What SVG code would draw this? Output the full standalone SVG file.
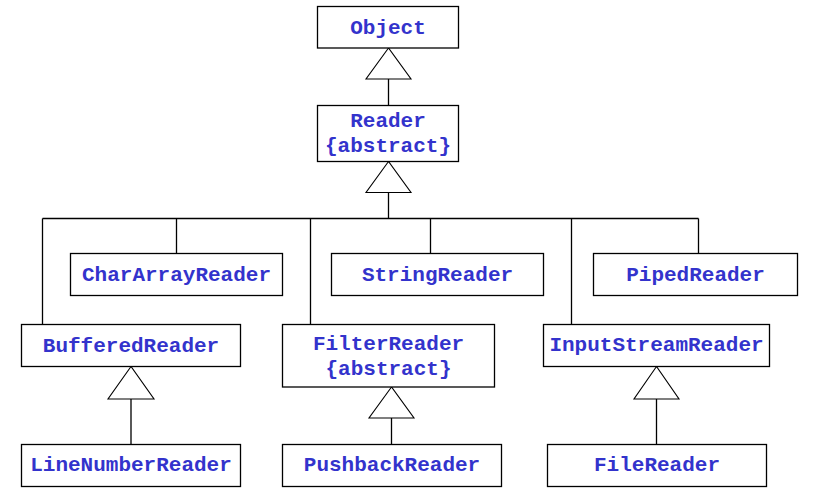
<svg xmlns="http://www.w3.org/2000/svg" width="817" height="497" viewBox="0 0 817 497">
<style>
.box{fill:#fff;stroke:#000;stroke-width:1.3}
.lbl{font-family:"Liberation Mono","Courier New",monospace;font-weight:bold;font-size:21px;fill:#3333cc;text-anchor:middle}
.ln{stroke:#000;stroke-width:1.3;fill:none}
.tri{fill:#fff;stroke:#000;stroke-width:1.1}
</style>
<rect width="817" height="497" fill="#fff"/>
<g id="connectors">
<path class="ln" d="M388.5,79 V105.5 M388.5,192.5 V218.5 M42.5,218.5 H698.5 M42.5,218.5 V324.5 M176.5,218.5 V253.5 M310.5,218.5 V324.5 M430.5,218.5 V253.5 M571.5,218.5 V324.5 M698.5,218.5 V253.5 M131,399 V444.5 M391.5,418 V444.5 M656.5,399 V444.5"/>
<polygon class="tri" points="388.5,48 366,79 411,79"/>
<polygon class="tri" points="388.5,161.5 366,192.5 411,192.5"/>
<polygon class="tri" points="131,366.5 108,399 154,399"/>
<polygon class="tri" points="391.5,387 369,418 414,418"/>
<polygon class="tri" points="656.5,366.5 634,399 679,399"/>
</g>
<g id="Object"><rect class="box" x="317.5" y="6.5" width="141" height="41.5"/><text class="lbl" x="388" y="34">Object</text></g>
<g id="Reader"><rect class="box" x="317.5" y="105.5" width="141" height="56"/><text class="lbl" x="388" y="127">Reader</text><text class="lbl" x="388" y="151.5">{abstract}</text></g>
<g id="CharArrayReader"><rect class="box" x="70.5" y="253.5" width="212" height="42"/><text class="lbl" x="176.5" y="281">CharArrayReader</text></g>
<g id="StringReader"><rect class="box" x="331.5" y="253.5" width="212" height="42"/><text class="lbl" x="437.5" y="281">StringReader</text></g>
<g id="PipedReader"><rect class="box" x="593.5" y="253.5" width="204" height="42"/><text class="lbl" x="695.5" y="281">PipedReader</text></g>
<g id="BufferedReader"><rect class="box" x="21.5" y="324.5" width="219" height="42"/><text class="lbl" x="131" y="352">BufferedReader</text></g>
<g id="FilterReader"><rect class="box" x="282.5" y="324.5" width="212" height="62.5"/><text class="lbl" x="388.5" y="349.5">FilterReader</text><text class="lbl" x="388.5" y="374.5">{abstract}</text></g>
<g id="InputStreamReader"><rect class="box" x="543.5" y="324.5" width="226" height="42"/><text class="lbl" x="656.5" y="351">InputStreamReader</text></g>
<g id="LineNumberReader"><rect class="box" x="21.5" y="444.5" width="219" height="42"/><text class="lbl" x="131" y="471">LineNumberReader</text></g>
<g id="PushbackReader"><rect class="box" x="282.5" y="444.5" width="219" height="42"/><text class="lbl" x="392" y="471">PushbackReader</text></g>
<g id="FileReader"><rect class="box" x="547.5" y="444.5" width="219" height="42"/><text class="lbl" x="657" y="471">FileReader</text></g>
</svg>
